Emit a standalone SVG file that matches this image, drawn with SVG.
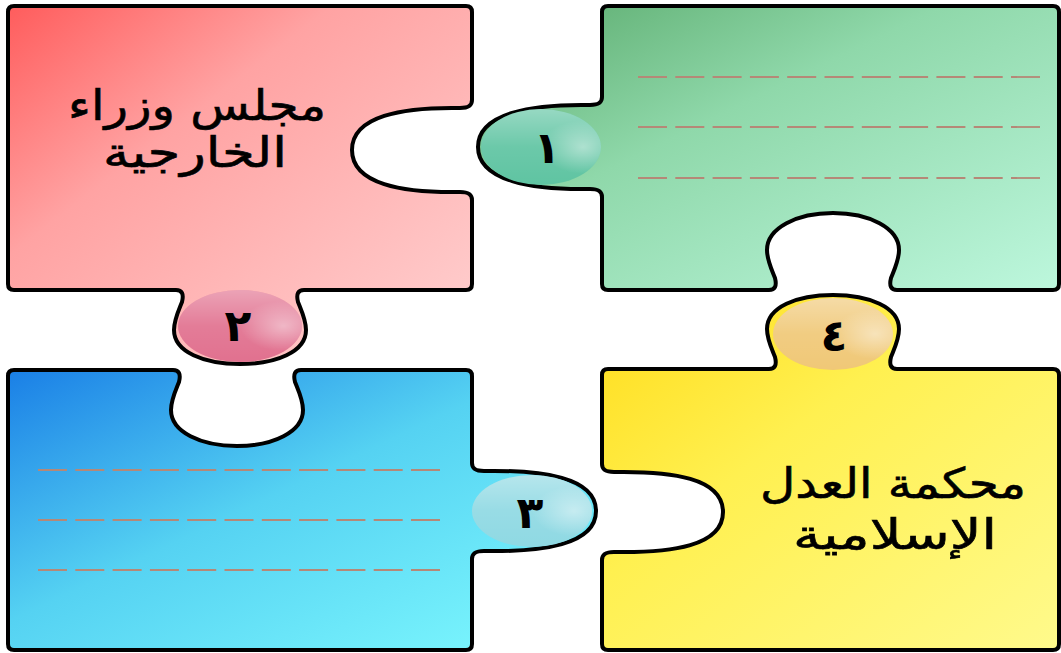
<svg xmlns="http://www.w3.org/2000/svg" width="1061" height="653" viewBox="0 0 1061 653">
  <defs>
    <linearGradient id="gRed" x1="0" y1="0" x2="1" y2="1">
      <stop offset="0" stop-color="#ff5c5c"/>
      <stop offset="0.35" stop-color="#ffa3a3"/>
      <stop offset="1" stop-color="#ffd2d2"/>
    </linearGradient>
    <linearGradient id="gGreen" x1="0" y1="0" x2="1" y2="1">
      <stop offset="0" stop-color="#5aaa6c"/>
      <stop offset="0.4" stop-color="#8fd8aa"/>
      <stop offset="1" stop-color="#bdf7dd"/>
    </linearGradient>
    <linearGradient id="gBlue" x1="0" y1="0" x2="1" y2="1">
      <stop offset="0" stop-color="#1a7fe6"/>
      <stop offset="0.45" stop-color="#55d2f2"/>
      <stop offset="1" stop-color="#80fbff"/>
    </linearGradient>
    <linearGradient id="gYellow" x1="0" y1="0" x2="1" y2="1">
      <stop offset="0" stop-color="#ffdc1a"/>
      <stop offset="0.4" stop-color="#fff050"/>
      <stop offset="1" stop-color="#fffa8c"/>
    </linearGradient>
    <linearGradient id="gloss" x1="0" y1="0" x2="0" y2="1">
      <stop offset="0" stop-color="#ffffff" stop-opacity="0.35"/>
      <stop offset="0.5" stop-color="#ffffff" stop-opacity="0.08"/>
      <stop offset="1" stop-color="#ffffff" stop-opacity="0"/>
    </linearGradient>
    <radialGradient id="shine" cx="0.85" cy="0.5" r="0.35">
      <stop offset="0" stop-color="#ffffff" stop-opacity="0.45"/>
      <stop offset="1" stop-color="#ffffff" stop-opacity="0"/>
    </radialGradient>
  </defs>
  <style>
    .piece { stroke: #000; stroke-width: 4; stroke-linejoin: round; }
    .dash { stroke: #b58877; stroke-width: 1.8; stroke-dasharray: 29 8.3; fill: none; }
    .label { font-family: "DejaVu Sans", sans-serif; font-size: 42px; fill: #000; stroke: #000; stroke-width: 0.6; text-anchor: middle; }
    .num { font-family: "DejaVu Sans", sans-serif; font-size: 44px; font-weight: bold; fill: #000; text-anchor: middle; }
  </style>
  <rect width="1061" height="653" fill="#ffffff"/>

  <g id="piece-red">
    <path class="piece" fill="url(#gRed)" d="M 14 6 H 466 Q 472 6 472 12 V 100 C 472 106 468 108 460 108 C 402 107 352 116 352 150 C 352 184 402 193 460 192 C 468 192 472 194 472 200 V 284 Q 472 290 466 290 H 304 C 298 290 296 294 298 302 C 302 312 306 320 306 330 C 306 352 276 364 240 364 C 204 364 174 352 174 330 C 174 320 178 312 182 302 C 184 294 182 290 176 290 H 14 Q 8 290 8 284 V 12 Q 8 6 14 6 Z"/>
    <ellipse cx="240" cy="326" rx="62" ry="36" fill="#e1718f"/>
    <ellipse cx="240" cy="326" rx="62" ry="36" fill="url(#gloss)"/>
    <ellipse cx="240" cy="326" rx="62" ry="36" fill="url(#shine)"/>
    <text class="num" x="238" y="341">٢</text>
    <text class="label" x="197" y="120" textLength="258" lengthAdjust="spacingAndGlyphs">مجلس وزراء</text>
    <text class="label" x="195" y="167" textLength="184" lengthAdjust="spacingAndGlyphs">الخارجية</text>
  </g>

  <g id="piece-green">
    <path class="piece" fill="url(#gGreen)" d="M 608 6 H 1053 Q 1059 6 1059 12 V 284 Q 1059 290 1053 290 H 897 C 891 290 889 286 891 278 C 895 268 899 260 899 250 C 899 228 869 213 833 213 C 797 213 767 228 767 250 C 767 260 771 268 775 278 C 777 286 775 290 769 290 H 608 Q 602 290 602 284 V 197 C 602 191 598 189 590 189 C 532 190 478 181 478 147 C 478 113 532 104 590 105 C 598 105 602 103 602 97 V 12 Q 602 6 608 6 Z"/>
    <ellipse cx="541" cy="147" rx="60" ry="38" fill="#5fc4a2"/>
    <ellipse cx="541" cy="147" rx="60" ry="38" fill="url(#gloss)"/>
    <ellipse cx="541" cy="147" rx="60" ry="38" fill="url(#shine)"/>
    <text class="num" x="547" y="163">١</text>
    <line class="dash" x1="638" y1="77" x2="1040" y2="77"/>
    <line class="dash" x1="638" y1="127" x2="1040" y2="127"/>
    <line class="dash" x1="638" y1="178" x2="1040" y2="178"/>
  </g>

  <g id="piece-blue">
    <path class="piece" fill="url(#gBlue)" d="M 14 370 H 173 C 179 370 181 374 179 382 C 175 392 171 400 171 410 C 171 432 201 446 237 446 C 273 446 303 432 303 410 C 303 400 299 392 295 382 C 293 374 295 370 301 370 H 466 Q 472 370 472 376 V 463 C 472 469 476 471 484 471 C 542 470 596 477 596 511 C 596 545 542 552 484 551 C 476 551 472 553 472 559 V 644 Q 472 650 466 650 H 14 Q 8 650 8 644 V 376 Q 8 370 14 370 Z"/>
    <ellipse cx="532" cy="511" rx="60" ry="36" fill="#8fd9e3"/>
    <ellipse cx="532" cy="511" rx="60" ry="36" fill="url(#gloss)"/>
    <ellipse cx="532" cy="511" rx="60" ry="36" fill="url(#shine)"/>
    <text class="num" x="530" y="528">٣</text>
    <line class="dash" x1="38" y1="470" x2="440" y2="470"/>
    <line class="dash" x1="38" y1="520" x2="440" y2="520"/>
    <line class="dash" x1="38" y1="570" x2="440" y2="570"/>
  </g>

  <g id="piece-yellow">
    <path class="piece" fill="url(#gYellow)" d="M 608 369 H 769 C 775 369 777 365 775 357 C 771 347 767 339 767 329 C 767 307 797 295 833 295 C 869 295 899 307 899 329 C 899 339 895 347 891 357 C 889 365 891 369 897 369 H 1053 Q 1059 369 1059 375 V 644 Q 1059 650 1053 650 H 608 Q 602 650 602 644 V 560 C 602 554 606 552 614 552 C 672 553 723 546 723 512 C 723 478 672 471 614 472 C 606 472 602 470 602 464 V 375 Q 602 369 608 369 Z"/>
    <ellipse cx="833" cy="334" rx="60" ry="36" fill="#f0c877"/>
    <ellipse cx="833" cy="334" rx="60" ry="36" fill="url(#gloss)"/>
    <ellipse cx="833" cy="334" rx="60" ry="36" fill="url(#shine)"/>
    <text class="num" x="834" y="351">٤</text>
    <text class="label" x="893" y="498" textLength="266" lengthAdjust="spacingAndGlyphs">محكمة العدل</text>
    <text class="label" x="895" y="549" textLength="204" lengthAdjust="spacingAndGlyphs">الإسلامية</text>
  </g>

  <g id="connectors"></g>
</svg>
